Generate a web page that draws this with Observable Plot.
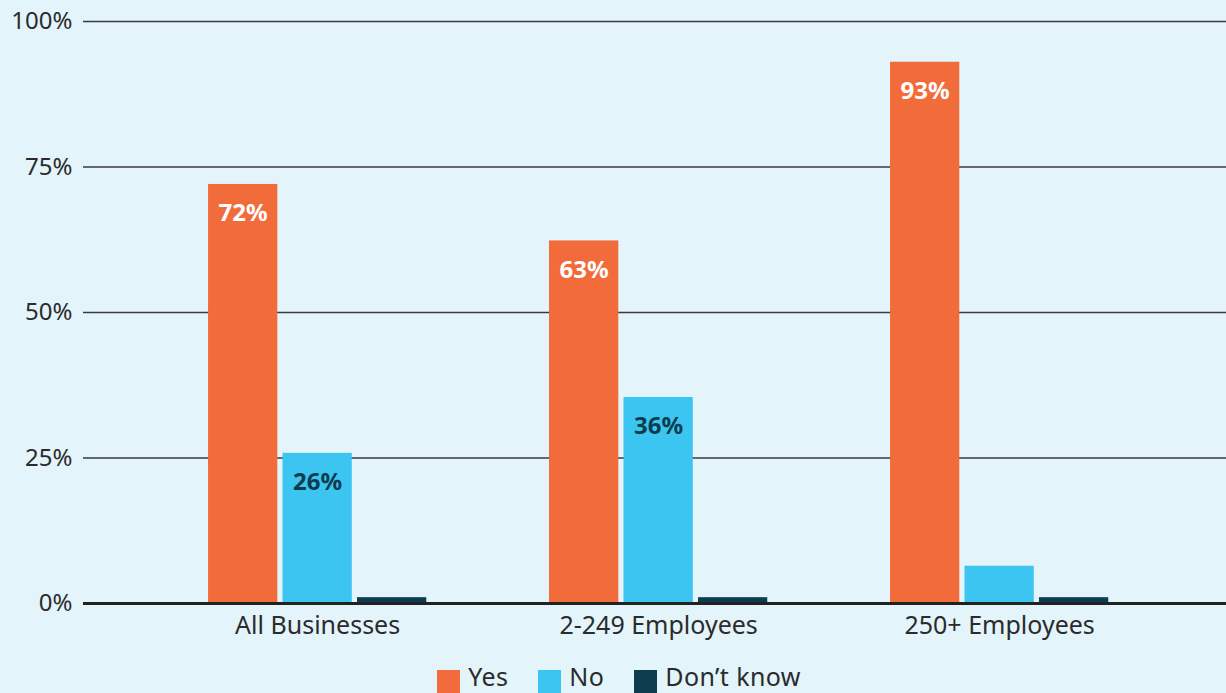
<!DOCTYPE html>
<html>
<head>
<meta charset="utf-8">
<script src="https://cdn.jsdelivr.net/npm/d3@7"></script>
<script src="https://cdn.jsdelivr.net/npm/@observablehq/plot@0.6"></script>
<style>
  html, body { margin: 0; padding: 0; background: #e3f4fb; overflow: hidden; }
  body { width: 1226px; height: 693px; font-family: "Noto Sans", sans-serif; }
  #chart { position: relative; width: 1226px; height: 660px; }
  #chart svg { position: absolute; left: 0; top: 0; }
  #legend { display: flex; justify-content: center; margin-top: 4px; padding-left: 12px; font-size: 25px; color: #2b2b2b; line-height: 25px; letter-spacing: 0.4px; }
  #legend .item { display: flex; align-items: flex-start; gap: 8px; margin: 0 15px; }
  #legend .sw { width: 23px; height: 23px; margin-top: 6px; }
</style>
</head>
<body>
<div id="chart"></div>
<div id="legend"></div>
<script>
const groups = ["All Businesses", "2-249 Employees", "250+ Employees"];
const series = ["Yes", "No", "Don’t know"];
const colors = ["#f26b3a", "#3cc5f0", "#0b3d4f"];
const yesValues = [72, 62.3, 93];
const noValues = [25.8, 35.4, 6.4];
const dkValues = [1, 1, 1];
const labelText = [["72%", "26%", ""], ["63%", "36%", ""], ["93%", "", ""]];
const labelColors = ["#ffffff", "#0b3d4f", "#ffffff"];
const yTicks = [0, 25, 50, 75, 100];

const valuesBySeries = [yesValues, noValues, dkValues];
const data = [];
groups.forEach((g, gi) => {
  series.forEach((s, si) => {
    data.push({group: g, series: s, value: valuesBySeries[si][gi], label: labelText[gi][si], labelColor: labelColors[si]});
  });
});
const labelled = data.filter(d => d.label);

const common = {
  width: 1226,
  height: 660,
  marginTop: 21,
  marginBottom: 57,
  marginLeft: 83,
  marginRight: 0,
  style: {background: "transparent", fontFamily: "Noto Sans, sans-serif", overflow: "visible"},
  y: {domain: [0, 100], axis: null}
};

// Background: gridlines and y tick labels across the full plot width
const back = Plot.plot({
  ...common,
  marks: [
    Plot.ruleY(yTicks.filter(d => d > 0), {stroke: "#3a3a3a", strokeWidth: 1.5}),
    Plot.axisY({ticks: yTicks, tickFormat: d => d + "%", tickSize: 0, tickPadding: 11, fontSize: 24, fill: "#2b2b2b", label: null}),
    Plot.ruleY([0], {stroke: "#222", strokeWidth: 3})
  ]
});

// Foreground: grouped bars
const front = Plot.plot({
  ...common,
  fx: {domain: groups, paddingInner: 0.36, paddingOuter: 0.356, align: 0.515, round: false, label: null},
  x: {domain: series, paddingInner: 0.07, paddingOuter: 0, round: false, axis: null},
  color: {domain: series, range: colors},
  marks: [
    Plot.barY(data, {fx: "group", x: "series", y: "value", fill: "series"}),
    Plot.text(labelled, {fx: "group", x: "series", y: "value", text: "label", fill: "labelColor", fontWeight: "bold", fontSize: 24, dy: 29}),
    Plot.ruleY([0], {stroke: "#222", strokeWidth: 3}),
    Plot.axisFx({anchor: "bottom", tickSize: 0, tickPadding: 13, fontSize: 25, fill: "#2b2b2b", label: null})
  ]
});
document.getElementById("chart").appendChild(back);
document.getElementById("chart").appendChild(front);

const legend = document.getElementById("legend");
series.forEach((s, i) => {
  const item = document.createElement("div");
  item.className = "item";
  const sw = document.createElement("div");
  sw.className = "sw";
  sw.style.background = colors[i];
  const t = document.createElement("span");
  t.textContent = s;
  item.appendChild(sw);
  item.appendChild(t);
  legend.appendChild(item);
});
</script>
</body>
</html>
